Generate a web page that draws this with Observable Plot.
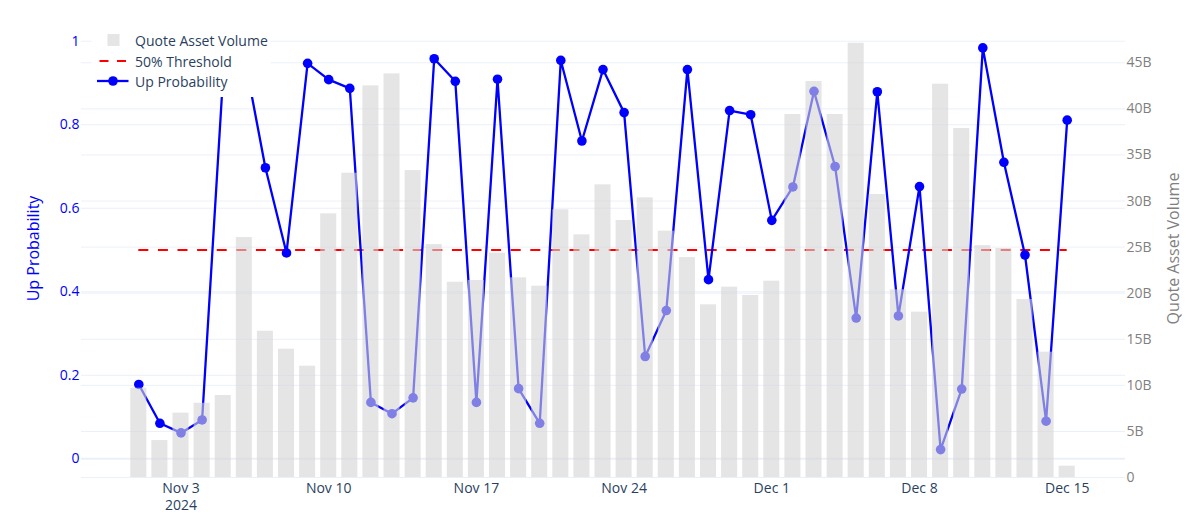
<!DOCTYPE html>
<html>
<head>
<meta charset="utf-8">
<script src="https://cdn.jsdelivr.net/npm/d3@7"></script>
<script src="https://cdn.jsdelivr.net/npm/@observablehq/plot@0.6"></script>
<style>
  body { margin: 0; background: #fff; font-family: "Open Sans", sans-serif; }
  #wrap { position: relative; width: 1200px; height: 527px; overflow: hidden; }
  #wrap > svg { position: absolute; left: 0; top: 0; }
</style>
</head>
<body>
<div id="wrap"></div>
<script>
// ---- data ----
const dates = [
  "2024-11-01","2024-11-02","2024-11-03","2024-11-04","2024-11-05","2024-11-06","2024-11-07","2024-11-08","2024-11-09","2024-11-10",
  "2024-11-11","2024-11-12","2024-11-13","2024-11-14","2024-11-15","2024-11-16","2024-11-17","2024-11-18","2024-11-19","2024-11-20",
  "2024-11-21","2024-11-22","2024-11-23","2024-11-24","2024-11-25","2024-11-26","2024-11-27","2024-11-28","2024-11-29","2024-11-30",
  "2024-12-01","2024-12-02","2024-12-03","2024-12-04","2024-12-05","2024-12-06","2024-12-07","2024-12-08","2024-12-09","2024-12-10",
  "2024-12-11","2024-12-12","2024-12-13","2024-12-14","2024-12-15"
];
const upProbability = [
  0.178, 0.085, 0.062, 0.093, 0.921, 0.964, 0.697, 0.493, 0.947, 0.908,
  0.887, 0.135, 0.108, 0.146, 0.958, 0.904, 0.135, 0.909, 0.168, 0.085,
  0.954, 0.761, 0.932, 0.829, 0.245, 0.355, 0.932, 0.429, 0.834, 0.824,
  0.571, 0.651, 0.880, 0.700, 0.337, 0.879, 0.342, 0.652, 0.022, 0.167,
  0.984, 0.710, 0.488, 0.090, 0.811
];
// Quote asset volume, in billions
const quoteVolumeB = [
  9.69, 4.01, 6.98, 8.06, 8.90, 26.04, 15.87, 13.92, 12.08, 28.61,
  33.02, 42.50, 43.80, 33.31, 25.28, 21.19, 21.38, 24.34, 21.67, 20.76,
  29.05, 26.33, 31.76, 27.89, 30.35, 26.73, 23.87, 18.74, 20.65, 19.75,
  21.30, 39.39, 42.97, 39.39, 47.12, 30.71, 20.37, 17.94, 42.68, 37.87,
  25.17, 24.85, 19.31, 13.60, 1.23
];
const threshold = 0.5;
const xTickDates = ["2024-11-03","2024-11-10","2024-11-17","2024-11-24","2024-12-01","2024-12-08","2024-12-15"];
const xTickLabels = ["Nov 3\n2024","Nov 10","Nov 17","Nov 24","Dec 1","Dec 8","Dec 15"];
const probTicks = [0, 0.2, 0.4, 0.6, 0.8, 1];
const probTickLabels = ["0", "0.2", "0.4", "0.6", "0.8", "1"];
const volTicks = [0, 5, 10, 15, 20, 25, 30, 35, 40, 45];
const volTickLabels = ["0", "5B", "10B", "15B", "20B", "25B", "30B", "35B", "40B", "45B"];

// ---- build table ----
const DAY = 864e5;
const rows = dates.map((d, i) => ({date: new Date(d + "T00:00:00Z"), prob: upProbability[i], vol: quoteVolumeB[i]}));
const xTicks = xTickDates.map(d => new Date(d + "T00:00:00Z"));
const xLabelMap = new Map(xTicks.map((d, i) => [+d, xTickLabels[i]]));
const probLabelMap = new Map(probTicks.map((d, i) => [d, probTickLabels[i]]));
const volLabelMap = new Map(volTicks.map((d, i) => [d, volTickLabels[i]]));

const FONT = '"Open Sans", "DejaVu Sans", sans-serif';
const common = {
  width: 1200, height: 527,
  marginLeft: 81, marginRight: 75, marginTop: 19, marginBottom: 50,
  x: {type: "utc", domain: [new Date(+rows[0].date - 2.716 * DAY), new Date(+rows[rows.length - 1].date + 2.763 * DAY)]},
  style: {background: "transparent", fontFamily: FONT, overflow: "visible"}
};
const GRID = "#ebf0f8";
const wrap = document.getElementById("wrap");

// Layer 1: volume grid + right axis
const volLayer = Plot.plot({
  ...common,
  x: {...common.x, axis: null},
  y: {domain: [0, 49.7]},
  marks: [
    Plot.gridY(volTicks, {stroke: GRID, strokeOpacity: 1}),
    Plot.axisY(volTicks, {anchor: "right", tickSize: 0, tickPadding: 1, fill: "#7f7f7f", fontSize: 14,
      tickFormat: d => volLabelMap.get(d), label: null}),
    Plot.text(["Quote Asset Volume"], {frameAnchor: "right", dx: 48, rotate: -90, fill: "#7f7f7f", fontSize: 16, textAnchor: "middle"})
  ]
});

// Layer 2: probability
const probLayer = Plot.plot({
  ...common,
  y: {domain: [-0.0448, 1.052]},
  marks: [
    Plot.gridY(probTicks, {stroke: GRID, strokeOpacity: 1}),
    Plot.ruleY([0], {stroke: GRID, strokeWidth: 2}),
    Plot.axisY(probTicks, {anchor: "left", tickSize: 0, tickPadding: 2, fill: "blue", fontSize: 14,
      tickFormat: d => probLabelMap.get(d), label: null}),
    Plot.axisX(xTicks, {anchor: "bottom", tickSize: 0, tickPadding: 4, fill: "#2a3f5f", fontSize: 14, lineHeight: 1.2,
      tickFormat: d => xLabelMap.get(+d), label: null}),
    Plot.ruleY([threshold], {x1: rows[0].date, x2: rows[rows.length - 1].date, stroke: "red", strokeWidth: 2, strokeDasharray: "10,9.6"}),
    Plot.line(rows, {x: "date", y: "prob", stroke: "blue", strokeWidth: 2.3}),
    Plot.dot(rows, {x: "date", y: "prob", r: 4.8, fill: "blue", stroke: "none"}),
    Plot.text(["Up Probability"], {frameAnchor: "left", dx: -48, rotate: -90, fill: "blue", fontSize: 16, textAnchor: "middle"})
  ]
});

// Layer 3: bars on top (semi-transparent)
const barLayer = Plot.plot({
  ...common,
  x: {...common.x, axis: null},
  y: {domain: [0, 49.7], axis: null},
  marks: [
    Plot.rectY(rows, {
      x1: d => new Date(+d.date - 0.38 * DAY),
      x2: d => new Date(+d.date + 0.38 * DAY),
      y: "vol", fill: "lightgray", fillOpacity: 0.6
    })
  ]
});

wrap.append(volLayer, probLayer, barLayer);

// Legend (overlay, white background like the original)
const ns = "http://www.w3.org/2000/svg";
const leg = document.createElementNS(ns, "svg");
leg.setAttribute("width", 1200); leg.setAttribute("height", 527);
leg.style.position = "absolute"; leg.style.left = "0"; leg.style.top = "0";
leg.innerHTML = `
  <rect x="91.5" y="26" width="179" height="71" fill="#fff"/>
  <rect x="107.5" y="34" width="12" height="12" fill="lightgray" fill-opacity="0.6"/>
  <line x1="99.5" x2="128" y1="61" y2="61" stroke="red" stroke-width="2" stroke-dasharray="9,8.5"/>
  <line x1="97" x2="128.5" y1="81" y2="81" stroke="blue" stroke-width="2.3"/>
  <circle cx="113" cy="81" r="4.8" fill="blue"/>
  <g font-family='${FONT}' font-size="14" fill="#2a3f5f" dominant-baseline="central">
    <text x="135" y="40.5">Quote Asset Volume</text>
    <text x="135" y="61">50% Threshold</text>
    <text x="135" y="81">Up Probability</text>
  </g>`;
wrap.append(leg);
</script>
</body>
</html>
